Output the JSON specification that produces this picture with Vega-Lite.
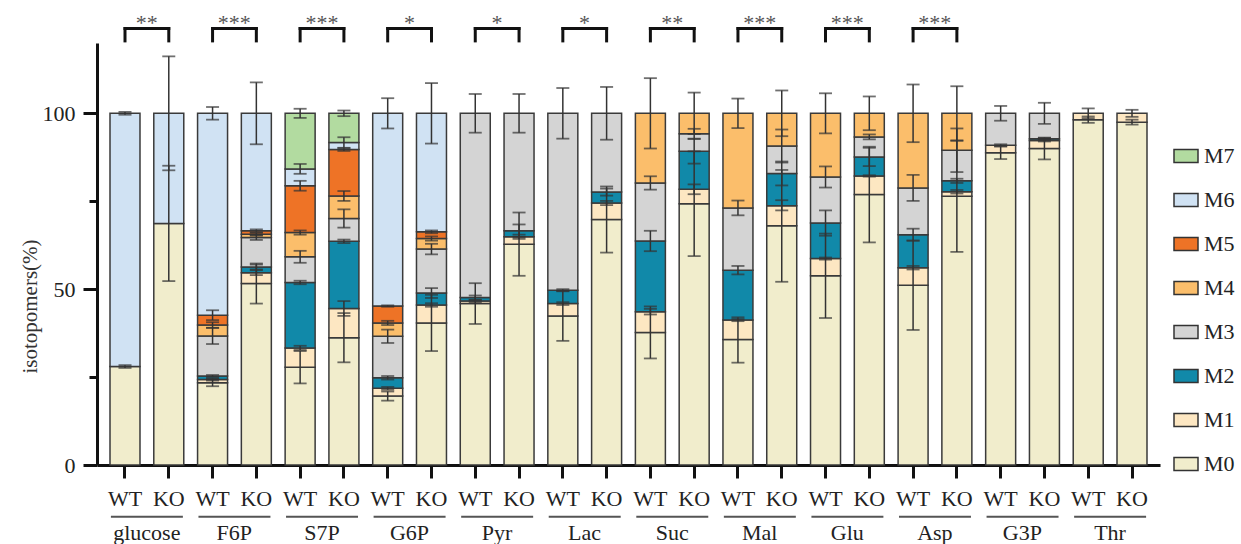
{
"$schema": "https://vega.github.io/schema/vega-lite/v6.json",
"width": 1063, "height": 422, "autosize": "none",
"padding": {"left": 97, "top": 43, "right": 81, "bottom": 79},
"config": {"font": "Liberation Serif", "view": {"stroke": null}},
"datasets": {
"bars": [
{"b":"glucose|WT","i":"M0","v":28.0},{"b":"glucose|WT","i":"M6","v":72.0},
{"b":"glucose|KO","i":"M0","v":68.7},{"b":"glucose|KO","i":"M6","v":31.3},
{"b":"F6P|WT","i":"M0","v":23.4},{"b":"F6P|WT","i":"M1","v":0.9},{"b":"F6P|WT","i":"M2","v":1.0},{"b":"F6P|WT","i":"M3","v":11.4},{"b":"F6P|WT","i":"M4","v":3.1},{"b":"F6P|WT","i":"M5","v":2.8},{"b":"F6P|WT","i":"M6","v":57.4},
{"b":"F6P|KO","i":"M0","v":51.6},{"b":"F6P|KO","i":"M1","v":3.1},{"b":"F6P|KO","i":"M2","v":1.6},{"b":"F6P|KO","i":"M3","v":8.4},{"b":"F6P|KO","i":"M4","v":0.9},{"b":"F6P|KO","i":"M5","v":1.0},{"b":"F6P|KO","i":"M6","v":33.4},
{"b":"S7P|WT","i":"M0","v":27.8},{"b":"S7P|WT","i":"M1","v":5.5},{"b":"S7P|WT","i":"M2","v":18.6},{"b":"S7P|WT","i":"M3","v":7.3},{"b":"S7P|WT","i":"M4","v":6.9},{"b":"S7P|WT","i":"M5","v":13.3},{"b":"S7P|WT","i":"M6","v":4.8},{"b":"S7P|WT","i":"M7","v":15.8},
{"b":"S7P|KO","i":"M0","v":36.2},{"b":"S7P|KO","i":"M1","v":8.3},{"b":"S7P|KO","i":"M2","v":19.1},{"b":"S7P|KO","i":"M3","v":6.5},{"b":"S7P|KO","i":"M4","v":6.4},{"b":"S7P|KO","i":"M5","v":13.2},{"b":"S7P|KO","i":"M6","v":2.0},{"b":"S7P|KO","i":"M7","v":8.3},
{"b":"G6P|WT","i":"M0","v":19.6},{"b":"G6P|WT","i":"M1","v":2.2},{"b":"G6P|WT","i":"M2","v":3.0},{"b":"G6P|WT","i":"M3","v":11.8},{"b":"G6P|WT","i":"M4","v":3.8},{"b":"G6P|WT","i":"M5","v":4.8},{"b":"G6P|WT","i":"M6","v":54.8},
{"b":"G6P|KO","i":"M0","v":40.4},{"b":"G6P|KO","i":"M1","v":5.1},{"b":"G6P|KO","i":"M2","v":3.4},{"b":"G6P|KO","i":"M3","v":12.5},{"b":"G6P|KO","i":"M4","v":3.0},{"b":"G6P|KO","i":"M5","v":1.9},{"b":"G6P|KO","i":"M6","v":33.7},
{"b":"Pyr|WT","i":"M0","v":45.9},{"b":"Pyr|WT","i":"M1","v":0.7},{"b":"Pyr|WT","i":"M2","v":1.0},{"b":"Pyr|WT","i":"M3","v":52.4},
{"b":"Pyr|KO","i":"M0","v":62.8},{"b":"Pyr|KO","i":"M1","v":2.1},{"b":"Pyr|KO","i":"M2","v":1.7},{"b":"Pyr|KO","i":"M3","v":33.4},
{"b":"Lac|WT","i":"M0","v":42.4},{"b":"Lac|WT","i":"M1","v":3.5},{"b":"Lac|WT","i":"M2","v":3.8},{"b":"Lac|WT","i":"M3","v":50.3},
{"b":"Lac|KO","i":"M0","v":69.8},{"b":"Lac|KO","i":"M1","v":4.7},{"b":"Lac|KO","i":"M2","v":3.1},{"b":"Lac|KO","i":"M3","v":22.4},
{"b":"Suc|WT","i":"M0","v":37.7},{"b":"Suc|WT","i":"M1","v":5.9},{"b":"Suc|WT","i":"M2","v":20.1},{"b":"Suc|WT","i":"M3","v":16.5},{"b":"Suc|WT","i":"M4","v":19.8},
{"b":"Suc|KO","i":"M0","v":74.3},{"b":"Suc|KO","i":"M1","v":4.1},{"b":"Suc|KO","i":"M2","v":10.8},{"b":"Suc|KO","i":"M3","v":5.0},{"b":"Suc|KO","i":"M4","v":5.8},
{"b":"Mal|WT","i":"M0","v":35.7},{"b":"Mal|WT","i":"M1","v":5.5},{"b":"Mal|WT","i":"M2","v":14.2},{"b":"Mal|WT","i":"M3","v":17.7},{"b":"Mal|WT","i":"M4","v":26.9},
{"b":"Mal|KO","i":"M0","v":68.0},{"b":"Mal|KO","i":"M1","v":5.7},{"b":"Mal|KO","i":"M2","v":9.2},{"b":"Mal|KO","i":"M3","v":7.8},{"b":"Mal|KO","i":"M4","v":9.3},
{"b":"Glu|WT","i":"M0","v":53.8},{"b":"Glu|WT","i":"M1","v":4.9},{"b":"Glu|WT","i":"M2","v":10.1},{"b":"Glu|WT","i":"M3","v":13.1},{"b":"Glu|WT","i":"M4","v":18.1},
{"b":"Glu|KO","i":"M0","v":76.9},{"b":"Glu|KO","i":"M1","v":5.3},{"b":"Glu|KO","i":"M2","v":5.4},{"b":"Glu|KO","i":"M3","v":5.7},{"b":"Glu|KO","i":"M4","v":6.7},
{"b":"Asp|WT","i":"M0","v":51.1},{"b":"Asp|WT","i":"M1","v":5.0},{"b":"Asp|WT","i":"M2","v":9.4},{"b":"Asp|WT","i":"M3","v":13.3},{"b":"Asp|WT","i":"M4","v":21.2},
{"b":"Asp|KO","i":"M0","v":76.4},{"b":"Asp|KO","i":"M1","v":1.3},{"b":"Asp|KO","i":"M2","v":3.1},{"b":"Asp|KO","i":"M3","v":8.7},{"b":"Asp|KO","i":"M4","v":10.5},
{"b":"G3P|WT","i":"M0","v":88.8},{"b":"G3P|WT","i":"M1","v":2.1},{"b":"G3P|WT","i":"M3","v":9.1},
{"b":"G3P|KO","i":"M0","v":90.0},{"b":"G3P|KO","i":"M1","v":2.3},{"b":"G3P|KO","i":"M2","v":0.5},{"b":"G3P|KO","i":"M3","v":7.2},
{"b":"Thr|WT","i":"M0","v":98.2},{"b":"Thr|WT","i":"M1","v":1.8},
{"b":"Thr|KO","i":"M0","v":97.5},{"b":"Thr|KO","i":"M1","v":2.5}
],
"errs": [
{"b":"glucose|WT","lo":27.6,"hi":28.4},{"b":"glucose|WT","lo":99.6,"hi":100.4},
{"b":"glucose|KO","lo":52.3,"hi":85.1},{"b":"glucose|KO","lo":83.8,"hi":116.2},
{"b":"F6P|WT","lo":22.4,"hi":24.4},{"b":"F6P|WT","lo":24.0,"hi":24.6},{"b":"F6P|WT","lo":25.0,"hi":25.6},{"b":"F6P|WT","lo":34.4,"hi":39.0},{"b":"F6P|WT","lo":39.0,"hi":40.6},{"b":"F6P|WT","lo":41.2,"hi":44.0},{"b":"F6P|WT","lo":98.2,"hi":101.8},
{"b":"F6P|KO","lo":45.9,"hi":57.3},{"b":"F6P|KO","lo":54.0,"hi":55.4},{"b":"F6P|KO","lo":55.6,"hi":57.0},{"b":"F6P|KO","lo":64.0,"hi":65.4},{"b":"F6P|KO","lo":65.2,"hi":66.0},{"b":"F6P|KO","lo":66.2,"hi":67.0},{"b":"F6P|KO","lo":91.2,"hi":108.8},
{"b":"S7P|WT","lo":23.2,"hi":32.4},{"b":"S7P|WT","lo":32.7,"hi":33.9},{"b":"S7P|WT","lo":51.4,"hi":52.4},{"b":"S7P|WT","lo":57.5,"hi":60.9},{"b":"S7P|WT","lo":65.5,"hi":66.7},{"b":"S7P|WT","lo":78.0,"hi":80.8},{"b":"S7P|WT","lo":82.8,"hi":85.6},{"b":"S7P|WT","lo":98.7,"hi":101.3},
{"b":"S7P|KO","lo":29.2,"hi":43.2},{"b":"S7P|KO","lo":42.4,"hi":46.6},{"b":"S7P|KO","lo":63.1,"hi":64.1},{"b":"S7P|KO","lo":67.5,"hi":72.7},{"b":"S7P|KO","lo":75.1,"hi":77.9},{"b":"S7P|KO","lo":89.3,"hi":90.1},{"b":"S7P|KO","lo":90.2,"hi":93.2},{"b":"S7P|KO","lo":99.2,"hi":100.8},
{"b":"G6P|WT","lo":18.3,"hi":20.9},{"b":"G6P|WT","lo":21.4,"hi":22.2},{"b":"G6P|WT","lo":24.3,"hi":25.3},{"b":"G6P|WT","lo":34.7,"hi":38.5},{"b":"G6P|WT","lo":39.8,"hi":41.0},{"b":"G6P|WT","lo":45.0,"hi":45.4},{"b":"G6P|WT","lo":95.7,"hi":104.3},
{"b":"G6P|KO","lo":32.4,"hi":48.4},{"b":"G6P|KO","lo":45.0,"hi":46.0},{"b":"G6P|KO","lo":47.5,"hi":50.3},{"b":"G6P|KO","lo":59.9,"hi":62.9},{"b":"G6P|KO","lo":63.8,"hi":65.0},{"b":"G6P|KO","lo":65.9,"hi":66.7},{"b":"G6P|KO","lo":91.4,"hi":108.6},
{"b":"Pyr|WT","lo":40.1,"hi":51.7},{"b":"Pyr|WT","lo":46.3,"hi":46.9},{"b":"Pyr|WT","lo":47.0,"hi":48.2},{"b":"Pyr|WT","lo":94.5,"hi":105.5},
{"b":"Pyr|KO","lo":53.8,"hi":71.8},{"b":"Pyr|KO","lo":64.3,"hi":65.5},{"b":"Pyr|KO","lo":64.8,"hi":68.4},{"b":"Pyr|KO","lo":94.5,"hi":105.5},
{"b":"Lac|WT","lo":35.3,"hi":49.5},{"b":"Lac|WT","lo":45.5,"hi":46.3},{"b":"Lac|WT","lo":49.4,"hi":50.0},{"b":"Lac|WT","lo":92.8,"hi":107.2},
{"b":"Lac|KO","lo":60.4,"hi":79.2},{"b":"Lac|KO","lo":73.9,"hi":75.1},{"b":"Lac|KO","lo":76.6,"hi":78.6},{"b":"Lac|KO","lo":92.5,"hi":107.5},
{"b":"Suc|WT","lo":30.3,"hi":45.1},{"b":"Suc|WT","lo":42.8,"hi":44.4},{"b":"Suc|WT","lo":60.8,"hi":66.6},{"b":"Suc|WT","lo":78.3,"hi":82.1},{"b":"Suc|WT","lo":90.0,"hi":110.0},
{"b":"Suc|KO","lo":59.4,"hi":89.2},{"b":"Suc|KO","lo":77.0,"hi":79.8},{"b":"Suc|KO","lo":85.7,"hi":92.7},{"b":"Suc|KO","lo":92.8,"hi":95.6},{"b":"Suc|KO","lo":94.1,"hi":105.9},
{"b":"Mal|WT","lo":29.1,"hi":42.0},{"b":"Mal|WT","lo":40.9,"hi":41.5},{"b":"Mal|WT","lo":54.2,"hi":56.6},{"b":"Mal|WT","lo":71.0,"hi":75.2},{"b":"Mal|WT","lo":95.8,"hi":104.2},
{"b":"Mal|KO","lo":52.1,"hi":83.9},{"b":"Mal|KO","lo":72.4,"hi":75.3},{"b":"Mal|KO","lo":79.5,"hi":86.3},{"b":"Mal|KO","lo":86.0,"hi":95.4},{"b":"Mal|KO","lo":93.5,"hi":106.5},
{"b":"Glu|WT","lo":41.8,"hi":65.8},{"b":"Glu|WT","lo":58.4,"hi":59.0},{"b":"Glu|WT","lo":65.2,"hi":72.4},{"b":"Glu|WT","lo":78.9,"hi":84.9},{"b":"Glu|WT","lo":94.3,"hi":105.7},
{"b":"Glu|KO","lo":63.3,"hi":90.5},{"b":"Glu|KO","lo":82.0,"hi":82.4},{"b":"Glu|KO","lo":85.0,"hi":90.2},{"b":"Glu|KO","lo":92.6,"hi":94.0},{"b":"Glu|KO","lo":95.2,"hi":104.8},
{"b":"Asp|WT","lo":38.4,"hi":63.8},{"b":"Asp|WT","lo":55.6,"hi":56.6},{"b":"Asp|WT","lo":63.8,"hi":67.2},{"b":"Asp|WT","lo":75.1,"hi":82.5},{"b":"Asp|WT","lo":91.8,"hi":108.2},
{"b":"Asp|KO","lo":60.6,"hi":92.2},{"b":"Asp|KO","lo":77.2,"hi":78.2},{"b":"Asp|KO","lo":80.2,"hi":81.4},{"b":"Asp|KO","lo":83.3,"hi":95.7},{"b":"Asp|KO","lo":92.3,"hi":107.7},
{"b":"G3P|WT","lo":87.0,"hi":90.6},{"b":"G3P|WT","lo":90.6,"hi":91.2},{"b":"G3P|WT","lo":97.9,"hi":102.1},
{"b":"G3P|KO","lo":86.9,"hi":93.1},{"b":"G3P|KO","lo":92.0,"hi":92.6},{"b":"G3P|KO","lo":92.6,"hi":93.0},{"b":"G3P|KO","lo":97.0,"hi":103.0},
{"b":"Thr|WT","lo":97.3,"hi":99.1},{"b":"Thr|WT","lo":98.6,"hi":101.4},
{"b":"Thr|KO","lo":96.8,"hi":98.2},{"b":"Thr|KO","lo":99.0,"hi":101.0}
],
"sig": [
{"wt":"glucose|WT","ko":"glucose|KO","s":"**"},
{"wt":"F6P|WT","ko":"F6P|KO","s":"***"},
{"wt":"S7P|WT","ko":"S7P|KO","s":"***"},
{"wt":"G6P|WT","ko":"G6P|KO","s":"*"},
{"wt":"Pyr|WT","ko":"Pyr|KO","s":"*"},
{"wt":"Lac|WT","ko":"Lac|KO","s":"*"},
{"wt":"Suc|WT","ko":"Suc|KO","s":"**"},
{"wt":"Mal|WT","ko":"Mal|KO","s":"***"},
{"wt":"Glu|WT","ko":"Glu|KO","s":"***"},
{"wt":"Asp|WT","ko":"Asp|KO","s":"***"}
],
"groups": [
{"wt":"glucose|WT","ko":"glucose|KO","g":"glucose"},
{"wt":"F6P|WT","ko":"F6P|KO","g":"F6P"},
{"wt":"S7P|WT","ko":"S7P|KO","g":"S7P"},
{"wt":"G6P|WT","ko":"G6P|KO","g":"G6P"},
{"wt":"Pyr|WT","ko":"Pyr|KO","g":"Pyr"},
{"wt":"Lac|WT","ko":"Lac|KO","g":"Lac"},
{"wt":"Suc|WT","ko":"Suc|KO","g":"Suc"},
{"wt":"Mal|WT","ko":"Mal|KO","g":"Mal"},
{"wt":"Glu|WT","ko":"Glu|KO","g":"Glu"},
{"wt":"Asp|WT","ko":"Asp|KO","g":"Asp"},
{"wt":"G3P|WT","ko":"G3P|KO","g":"G3P"},
{"wt":"Thr|WT","ko":"Thr|KO","g":"Thr"}
]
},
"layer": [
{
"data": {"name": "bars"},
"mark": {"type": "bar", "stroke": "#3a3a3a", "strokeWidth": 1.5, "opacity": 1},
"encoding": {
"x": {"field": "b", "type": "nominal", "sort": null,
"scale": {"domain": ["glucose|WT","glucose|KO","F6P|WT","F6P|KO","S7P|WT","S7P|KO","G6P|WT","G6P|KO","Pyr|WT","Pyr|KO","Lac|WT","Lac|KO","Suc|WT","Suc|KO","Mal|WT","Mal|KO","Glu|WT","Glu|KO","Asp|WT","Asp|KO","G3P|WT","G3P|KO","Thr|WT","Thr|KO"], "paddingInner": 0.315, "paddingOuter": 0.297},
"axis": {"title": null, "labelExpr": "split(datum.label, '|')[1]", "labelAngle": 0, "labelFontSize": 22, "labelColor": "#222", "labelPadding": 10, "tickSize": 13, "tickWidth": 3, "tickColor": "#111", "domainWidth": 3, "domainColor": "#111", "grid": false}},
"y": {"field": "v", "type": "quantitative", "stack": "zero",
"scale": {"domain": [0, 120], "nice": false},
"axis": {"title": "isotopomers(%)", "values": [0, 25, 50, 75, 100], "labelExpr": "datum.value % 50 === 0 ? datum.label : ''",
"tickSize": {"condition": {"test": "datum.value % 50 === 0", "value": 14}, "value": 8},
"tickWidth": 3, "tickColor": "#111", "domainWidth": 3, "domainColor": "#111", "grid": false,
"labelFontSize": 22, "labelColor": "#222", "labelPadding": 8,
"titleFontSize": 21, "titleFontWeight": "normal", "titleColor": "#333", "titleAngle": 270, "titleX": -67, "titleY": 263, "titleAlign": "center", "titleBaseline": "middle"}},
"color": {"field": "i", "type": "nominal",
"scale": {"domain": ["M7","M6","M5","M4","M3","M2","M1","M0"], "range": ["#B2DBA0","#D0E2F3","#EE7326","#FBBE6B","#D4D4D4","#1189A9","#FDE7C2","#F1EDCC"]},
"legend": {"title": null, "orient": "none", "legendX": 1076, "legendY": 100, "symbolType": "M-1,-0.55L1,-0.55L1,0.55L-1,0.55Z", "symbolSize": 576, "symbolStrokeColor": "#333", "symbolStrokeWidth": 1.5, "symbolOpacity": 1, "labelFontSize": 22, "labelColor": "#222", "labelOffset": 5, "rowPadding": 20}},
"order": {"field": "i", "sort": "ascending"}
}
},
{
"data": {"name": "errs"},
"mark": {"type": "rule", "color": "#333", "strokeWidth": 1.5},
"encoding": {"x": {"field": "b", "type": "nominal"}, "y": {"field": "lo", "type": "quantitative"}, "y2": {"field": "hi"}}
},
{
"data": {"name": "errs"},
"mark": {"type": "tick", "color": "#333", "size": 13, "thickness": 1.8, "orient": "horizontal"},
"encoding": {"x": {"field": "b", "type": "nominal"}, "y": {"field": "lo", "type": "quantitative"}}
},
{
"data": {"name": "errs"},
"mark": {"type": "tick", "color": "#333", "size": 13, "thickness": 1.8, "orient": "horizontal"},
"encoding": {"x": {"field": "b", "type": "nominal"}, "y": {"field": "hi", "type": "quantitative"}}
},
{
"data": {"name": "sig"},
"mark": {"type": "rule", "color": "#111", "strokeWidth": 3, "strokeCap": "square"},
"encoding": {"x": {"field": "wt", "type": "nominal"}, "x2": {"field": "ko"}, "y": {"datum": 124.1}}
},
{
"data": {"name": "sig"},
"mark": {"type": "rule", "color": "#111", "strokeWidth": 3, "strokeCap": "square"},
"encoding": {"x": {"field": "wt", "type": "nominal"}, "y": {"datum": 120.6}, "y2": {"datum": 124.1}}
},
{
"data": {"name": "sig"},
"mark": {"type": "rule", "color": "#111", "strokeWidth": 3, "strokeCap": "square"},
"encoding": {"x": {"field": "ko", "type": "nominal"}, "y": {"datum": 120.6}, "y2": {"datum": 124.1}}
},
{
"data": {"name": "sig"},
"mark": {"type": "text", "fontSize": 22, "color": "#555", "align": "center", "baseline": "alphabetic", "dx": -22},
"encoding": {"x": {"field": "ko", "type": "nominal"}, "y": {"datum": 123.7}, "text": {"field": "s"}}
},
{
"data": {"name": "groups"},
"mark": {"type": "rule", "color": "#555", "strokeWidth": 2},
"encoding": {"x": {"field": "wt", "type": "nominal", "bandPosition": 0.03}, "x2": {"field": "ko", "bandPosition": 0.97}, "y": {"datum": -14.7}}
},
{
"data": {"name": "groups"},
"mark": {"type": "text", "fontSize": 22, "color": "#222", "align": "center", "baseline": "alphabetic", "dx": -22},
"encoding": {"x": {"field": "ko", "type": "nominal"}, "y": {"datum": -21.3}, "text": {"field": "g"}}
}
]
}
